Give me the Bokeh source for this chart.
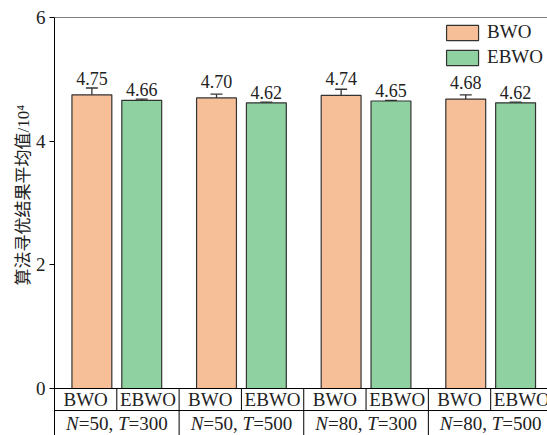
from bokeh.core.properties import value
from bokeh.embed import file_html
from bokeh.models import (ColumnDataSource, FixedTicker, Legend, LegendItem,
                          Range1d, Span, Title, Whisker)
from bokeh.plotting import figure
from bokeh.resources import INLINE

# Experiment settings (population size N, iterations T) and the two algorithms
pop_sizes = [50, 50, 80, 80]
iterations = [300, 500, 300, 500]
algorithms = ["BWO", "EBWO"]

# Mean optimisation result (x10^4) and its standard deviation
bwo_mean = [4.75, 4.70, 4.74, 4.68]
bwo_err = [0.11, 0.06, 0.10, 0.07]
ebwo_mean = [4.66, 4.62, 4.65, 4.62]
ebwo_err = [0.02, 0.01, 0.01, 0.01]

y_ticks = [0, 2, 4, 6]
y_title = "算法寻优结果平均值/10⁴"

SERIF = "Liberation Serif"
CJK = "Liberation Serif, Noto Sans CJK SC"
BWO_COLOR = "#F7BF98"
EBWO_COLOR = "#8FD1A0"
EDGE = "#333333"
INK = "#222222"

n = len(pop_sizes)
centers = [i + 0.5 for i in range(n)]
offset = 0.2      # half distance between the two bars of a group
bar_w = 0.32

p = figure(width=547, height=435, output_backend="svg", toolbar_location=None,
           x_range=Range1d(0, 3.956), y_range=Range1d(-0.76, 6),
           x_axis_location=None, min_border_left=54, min_border_top=17,
           min_border_right=0, min_border_bottom=0)
p.outline_line_color = None
p.grid.visible = False
p.background_fill_color = "white"

yax = p.yaxis[0]
yax.ticker = FixedTicker(ticks=y_ticks)
yax.major_tick_out = 5
yax.major_tick_in = 0
yax.minor_tick_line_color = None
yax.axis_line_color = "black"
yax.major_tick_line_color = "black"
yax.major_label_text_font = SERIF
yax.major_label_text_font_size = "19px"
yax.major_label_text_color = INK
yax.major_label_standoff = 4

# y axis title, placed in the left panel and shifted up from the bottom
p.add_layout(Title(text=y_title, align="left", offset=150, text_font=CJK,
                   text_font_size="17px", text_font_style="normal",
                   text_color=INK, standoff=0), "left")

# top border of the plotting area
p.add_layout(Span(location=6, dimension="width", line_color="black", line_width=1))

series = [
    ("BWO", bwo_mean, bwo_err, -offset, BWO_COLOR, -10),
    ("EBWO", ebwo_mean, ebwo_err, offset, EBWO_COLOR, -4),
]
legend_items = []
for name, mean, err, dx, color, lab_off in series:
    xs = [c + dx for c in centers]
    src = ColumnDataSource(dict(
        x=xs, top=mean,
        lower=[m - e for m, e in zip(mean, err)],
        upper=[m + e for m, e in zip(mean, err)],
        label=[f"{m:.2f}" for m in mean],
    ))
    r = p.vbar(x="x", top="top", bottom=0, width=bar_w, source=src,
               fill_color=color, line_color=EDGE, line_width=1.2)
    legend_items.append(LegendItem(label=name, renderers=[r]))
    whisk = Whisker(base="x", lower="lower", upper="upper", source=src,
                    line_color=EDGE, line_width=1.3)
    for head in (whisk.upper_head, whisk.lower_head):
        head.size = 12
        head.line_color = EDGE
        head.line_width = 1.3
    p.add_layout(whisk)
    p.text(x="x", y="top", text="label", source=src, y_offset=lab_off,
           text_align="center", text_baseline="bottom",
           text_font=value(SERIF), text_font_size="18px", text_color=INK)

# category table below the axis
row_mid = -0.356
bottom = -0.76
p.segment(x0=[0], y0=[0], x1=[n], y1=[0], line_color="black", line_width=1)
p.segment(x0=[0], y0=[row_mid], x1=[n], y1=[row_mid], line_color="black", line_width=1)
p.segment(x0=centers, y0=[0] * n, x1=centers, y1=[row_mid] * n,
          line_color="black", line_width=1)
p.segment(x0=list(range(1, n)), y0=[0] * (n - 1), x1=list(range(1, n)),
          y1=[bottom] * (n - 1), line_color="black", line_width=1)

cell_x, cell_t = [], []
for c in centers:
    cell_x += [c - 0.25, c + 0.25]
    cell_t += algorithms
p.text(x=cell_x, y=[row_mid / 2] * len(cell_x), text=cell_t,
       text_align="center", text_baseline="middle",
       text_font=value(SERIF), text_font_size="19px", text_color=INK)

row2_y = (row_mid + bottom) / 2
pieces = [
    (["N"] * n, -50.8, "italic"),
    ([f"={v}, " for v in pop_sizes], -38.1, "normal"),
    (["T"] * n, 1.1, "italic"),
    ([f"={v}" for v in iterations], 11.7, "normal"),
]
for texts, xo, style in pieces:
    p.text(x=centers, y=[row2_y] * n, text=texts, x_offset=xo,
           text_align="left", text_baseline="middle", text_font_style=style,
           text_font=value(SERIF), text_font_size="19px", text_color=INK)

legend = Legend(items=legend_items, location="top_right", margin=4, padding=0,
                spacing=3, glyph_width=40, glyph_height=19, label_standoff=5,
                label_text_font=SERIF, label_text_font_size="19px",
                label_text_color=INK, border_line_color=None,
                background_fill_alpha=0)
p.add_layout(legend)

open("out.html", "w").write(file_html(p, INLINE))
